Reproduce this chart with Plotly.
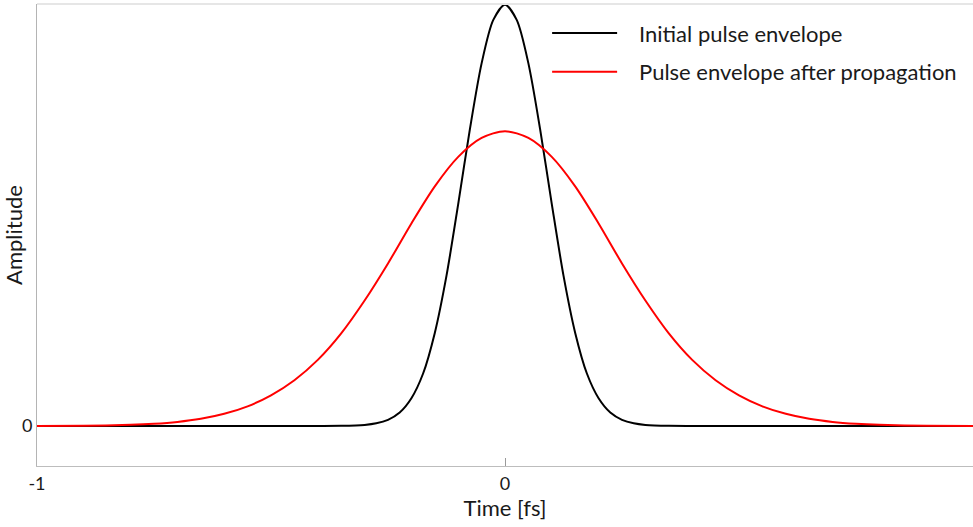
import plotly.graph_objects as go

# Time samples (fs) and amplitudes
t_black = [-1.0, -0.6, -0.4, -0.35, -0.3, -0.275, -0.25, -0.225, -0.2, -0.175, -0.15, -0.125, -0.1,
           -0.075, -0.05, -0.025, 0.0, 0.025, 0.05, 0.075, 0.1, 0.125, 0.15, 0.175, 0.2, 0.225,
           0.25, 0.275, 0.3, 0.35, 0.4, 0.6, 1.0]
amp_black = [0.0, 0.0, 0.0, 0.0003, 0.0025, 0.0063, 0.0147, 0.032, 0.0659, 0.1246, 0.221, 0.357, 0.527,
             0.705, 0.861, 0.9644, 1.0, 0.9644, 0.861, 0.705, 0.527, 0.357, 0.221, 0.1246, 0.0659, 0.032,
             0.0147, 0.0063, 0.0025, 0.0003, 0.0, 0.0, 0.0]

t_red = [-1.0, -0.9, -0.8, -0.75, -0.7, -0.65, -0.6, -0.55, -0.5, -0.45, -0.4, -0.35, -0.3, -0.25,
         -0.2, -0.15, -0.1, -0.05, 0.0, 0.05, 0.1, 0.15, 0.2, 0.25, 0.3, 0.35, 0.4, 0.45, 0.5,
         0.55, 0.6, 0.65, 0.7, 0.75, 0.8, 0.9, 1.0]
amp_red = [0.0001, 0.0006, 0.0027, 0.0052, 0.0096, 0.0170, 0.0289, 0.0467, 0.0728, 0.1087, 0.157, 0.220,
           0.298, 0.386, 0.481, 0.569, 0.639, 0.684, 0.70, 0.684, 0.639, 0.569, 0.481, 0.386, 0.298,
           0.220, 0.157, 0.1087, 0.0728, 0.0467, 0.0289, 0.0170, 0.0096, 0.0052, 0.0027, 0.0006, 0.0001]

x_ticks = [-1, 0, 1]
x_ticklabels = ["-1", "0", "1"]
y_ticks = [0]
y_ticklabels = ["0"]

FONT = "Lato"
GAP = "\u00a0" * 3

fig = go.Figure()
fig.add_trace(go.Scatter(x=t_black, y=amp_black, mode="lines", name=GAP + "Initial pulse envelope",
                         legendgroup="a",
                         line=dict(color="#000000", width=2, shape="spline", smoothing=0.8)))
fig.add_trace(go.Scatter(x=t_red, y=amp_red, mode="lines", name=GAP + "Pulse envelope after propagation",
                         legendgroup="b",
                         line=dict(color="#ff0000", width=2, shape="spline", smoothing=0.8)))

fig.update_layout(
    width=973, height=527,
    margin=dict(l=37, r=0, t=4, b=61),
    paper_bgcolor="white", plot_bgcolor="white",
    font=dict(family=FONT, size=18, color="#1a1a1a"),
    showlegend=True,
    legend=dict(x=0.545, y=0.982, xanchor="left", yanchor="top", bgcolor="rgba(0,0,0,0)",
                font=dict(size=22), itemwidth=65, tracegroupgap=7),
    xaxis=dict(range=[-1, 1], tickvals=x_ticks, ticktext=x_ticklabels, showgrid=False,
               zeroline=False, showline=True, linecolor="#bdbdbd", linewidth=1,
               ticks="inside", ticklen=8, tickcolor="#9a9a9a",
               title=dict(text="Time [fs]", standoff=2), ticklabelstandoff=1),
    yaxis=dict(range=[-0.095, 1.002], tickvals=y_ticks, ticktext=y_ticklabels, showgrid=False,
               zeroline=False, showline=True, linecolor="#b4b4b4", linewidth=1, ticks="",
               title=dict(text="Amplitude", standoff=4)),
)
fig.add_shape(type="line", xref="paper", yref="paper", x0=0, x1=1, y0=1, y1=1,
              line=dict(color="#e6e6e6", width=2))

fig.write_html("out.html")
